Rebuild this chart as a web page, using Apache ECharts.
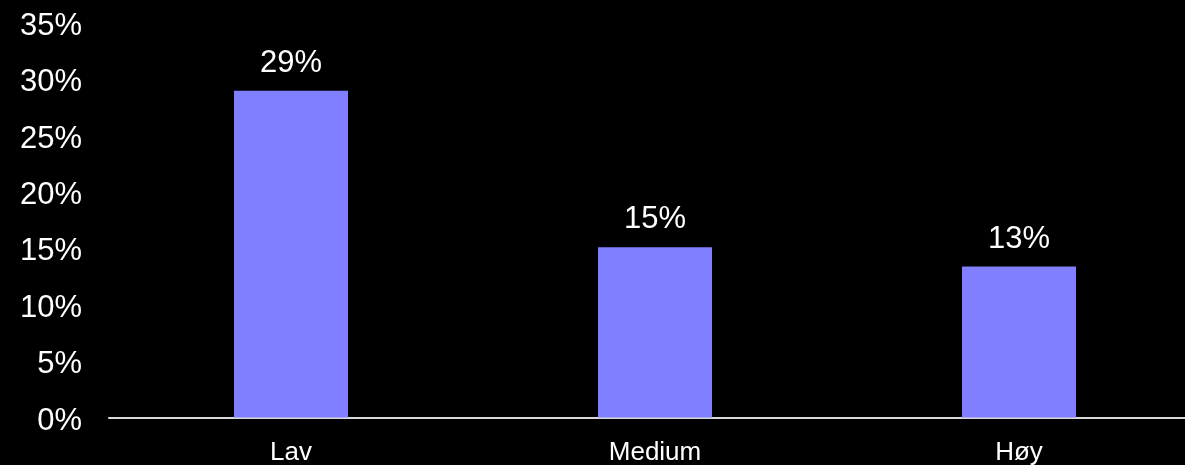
<!DOCTYPE html>
<html>
<head>
<meta charset="utf-8">
<script src="https://cdn.jsdelivr.net/npm/echarts@6/dist/echarts.min.js"></script>
<style>
html,body{margin:0;padding:0;background:#000;}
#chart{width:1185px;height:465px;}
</style>
</head>
<body>
<div id="chart"></div>
<script>
const categories = ['Lav', 'Medium', 'Høy'];
const values = [29.0, 15.1, 13.4];
const yTicks = [0, 5, 10, 15, 20, 25, 30, 35];

const chart = echarts.init(document.getElementById('chart'));
chart.setOption({
  backgroundColor: '#000000',
  animation: false,
  grid: { left: 109, right: -16, top: 23, bottom: 47.5, containLabel: false, outerBoundsMode: 'none' },
  xAxis: {
    type: 'category',
    data: categories,
    axisLine: { show: true, lineStyle: { color: '#d9d9d9', width: 2 } },
    axisTick: { show: false },
    axisLabel: { color: '#ffffff', fontSize: 26, fontFamily: 'Liberation Sans', margin: 22 }
  },
  yAxis: {
    type: 'value',
    min: yTicks[0],
    max: yTicks[yTicks.length - 1],
    interval: 5,
    axisLine: { show: false },
    axisTick: { show: false },
    splitLine: { show: false },
    axisLabel: { color: '#ffffff', fontSize: 31, fontFamily: 'Liberation Sans', margin: 27,
      formatter: v => '{a|' + v + '%}',
      rich: { a: { fontSize: 31, fontFamily: 'Liberation Sans', color: '#ffffff', padding: [7, 0, 0, 0] } } }
  },
  series: [{
    type: 'bar',
    data: values,
    barWidth: 114,
    itemStyle: { color: '#7f7fff' },
    label: { show: true, position: 'top', distance: 12, color: '#ffffff', fontSize: 31,
      fontFamily: 'Liberation Sans', formatter: p => Math.round(p.value) + '%' }
  }]
});
</script>
</body>
</html>
